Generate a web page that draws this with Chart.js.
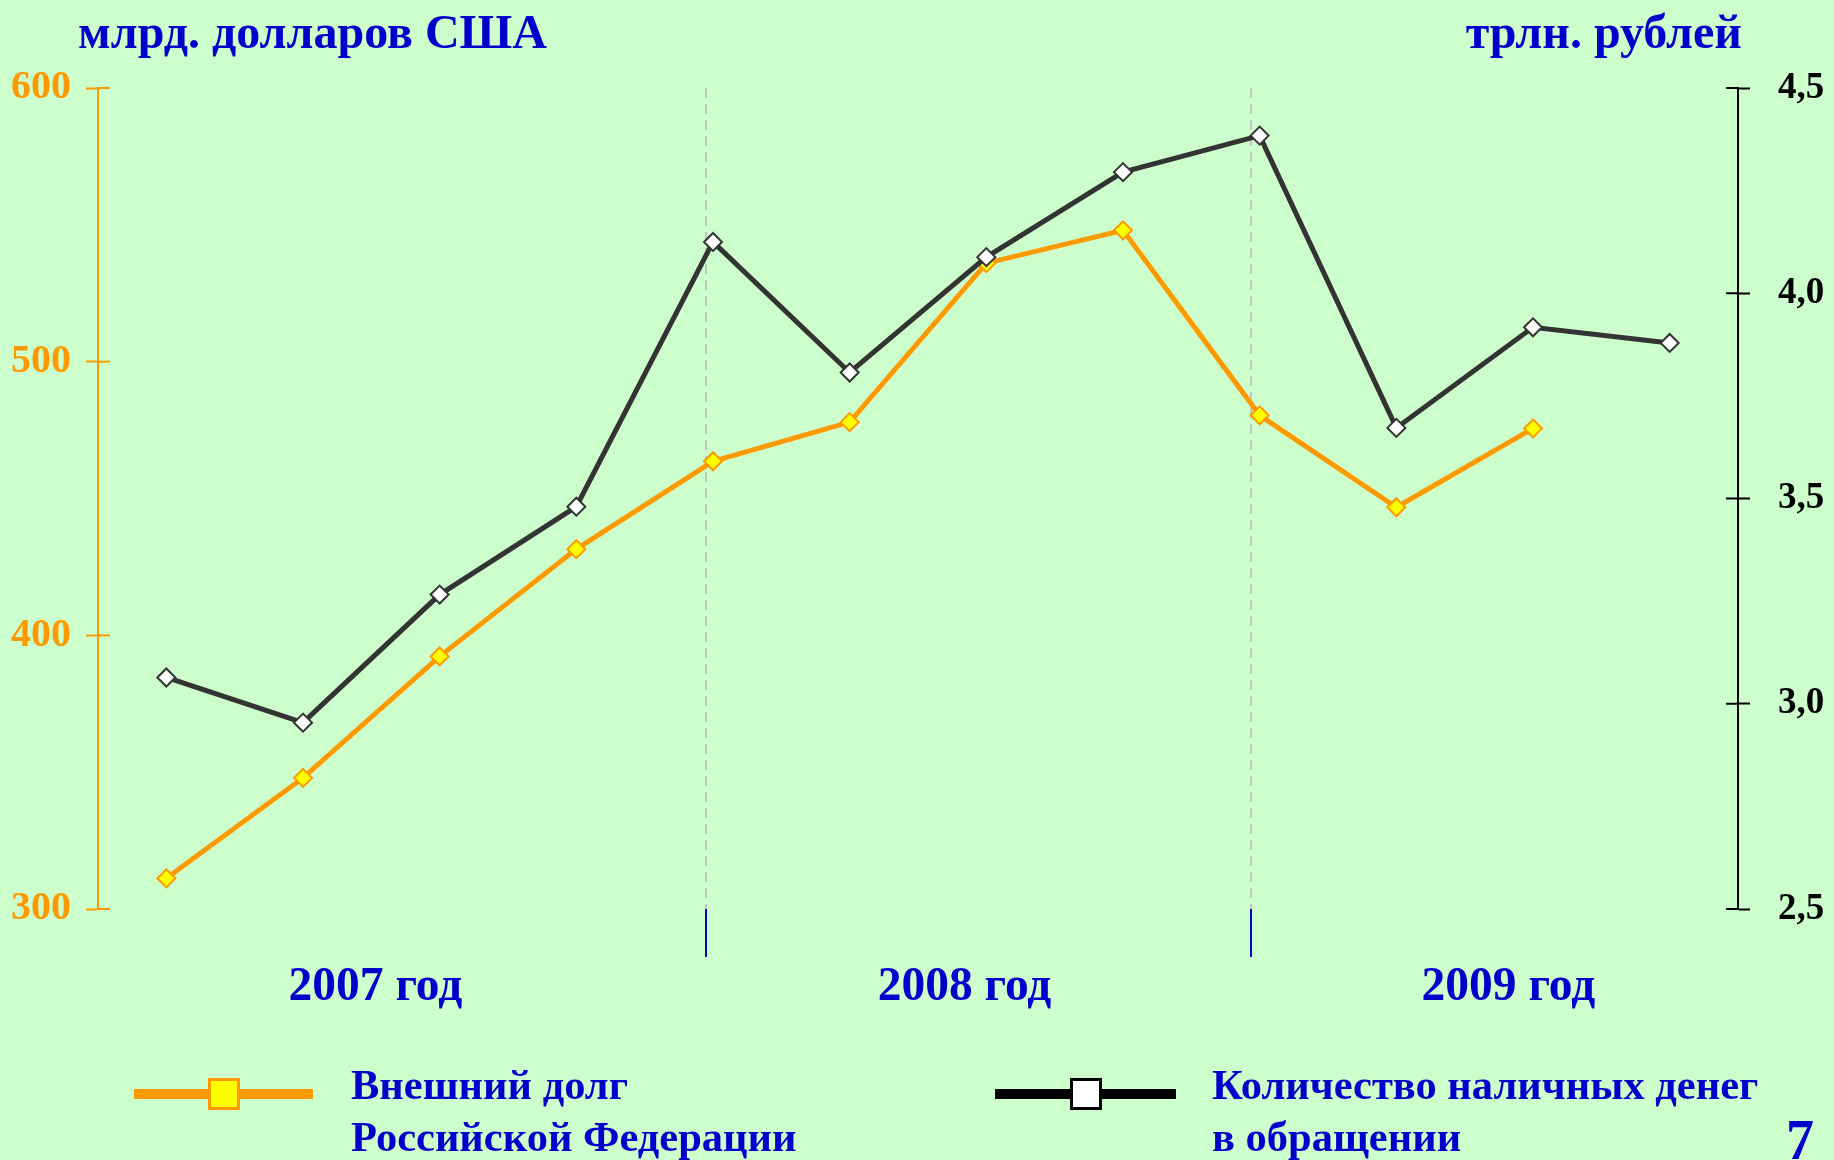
<!DOCTYPE html>
<html lang="ru">
<head>
<meta charset="utf-8">
<title>Внешний долг и наличные деньги</title>
<script src="https://cdn.jsdelivr.net/npm/chart.js@4.4.1/dist/chart.umd.min.js"></script>
<style>
  html, body { margin: 0; padding: 0; background: #ccffcc; }
  #wrap {
    position: relative; width: 1834px; height: 1160px; overflow: hidden;
    font-family: 'Liberation Serif', 'Times New Roman', serif; font-weight: bold; color: #0000cc;
  }
  #chart { position: absolute; left: 0; top: 0; }
  .txt { position: absolute; white-space: nowrap; }
  .title { font-size: 48px; line-height: 48px; top: 8px; }
  .legend-text { font-size: 42.5px; line-height: 52px; top: 1059px; }
  .legend-line { position: absolute; top: 1089px; height: 10px; }
  .legend-box { position: absolute; top: 1078px; width: 32px; height: 32px; box-sizing: border-box; border: 3px solid; }
</style>
</head>
<body>
<div id="wrap">
  <canvas id="chart" width="1834" height="1160"></canvas>

  <div class="txt title" style="left:78px">млрд. долларов США</div>
  <div class="txt title" style="right:92px">трлн. рублей</div>

  <div class="legend-line" style="left:134px; width:179px; background:#ff9900"></div>
  <div class="legend-box" style="left:208px; background:#ffff00; border-color:#ff9900"></div>
  <div class="txt legend-text" style="left:351px">Внешний долг<br>Российской Федерации</div>

  <div class="legend-line" style="left:995px; width:181px; background:#000000"></div>
  <div class="legend-box" style="left:1070px; background:#ffffff; border-color:#000000"></div>
  <div class="txt legend-text" style="left:1212px">Количество наличных денег<br>в обращении</div>

  <div class="txt" style="left:1786px; top:1112px; font-size:56px; line-height:56px">7</div>
</div>

<script>
// данные на начало квартала
const quarters = ['01.01.2007', '01.04.2007', '01.07.2007', '01.10.2007',
                  '01.01.2008', '01.04.2008', '01.07.2008', '01.10.2008',
                  '01.01.2009', '01.04.2009', '01.07.2009', '01.10.2009'];
// внешний долг, млрд. долларов США
const externalDebt = [311.2, 347.9, 392.3, 431.5, 463.6, 477.9, 536.0, 548.0, 480.4, 446.8, 475.6, null];
// наличные деньги в обращении, трлн. рублей
const cashInCirculation = [3.064, 2.954, 3.266, 3.480, 4.125, 3.807, 4.088, 4.295, 4.384, 3.672, 3.917, 3.879];

const debtTicks = [300, 400, 500, 600];
const cashTicks = [2.5, 3.0, 3.5, 4.0, 4.5];
const yearLabels = ['2007 год', '2008 год', '2009 год'];

// где стоят подписи лет и границы лет (в номерах кварталов)
const yearLabelPos = [1.53, 5.84, 9.82];
const yearBreaks = [3.95, 7.94];

const fontFamily = "'Liberation Serif', 'Times New Roman', serif";
const isBreak = c => c.tick && yearBreaks.includes(c.tick.value);

// засечки осей Y заходят внутрь графика
const crossTicks = {
    id: 'crossTicks',
    afterDraw(chart) {
        const ctx = chart.ctx;
        [['y', 1, '#ff9900'], ['y1', -1, '#000000']].forEach(([id, dir, color]) => {
            const s = chart.scales[id];
            const x = dir > 0 ? s.right : s.left;
            ctx.save();
            ctx.strokeStyle = color;
            ctx.lineWidth = 2;
            s.ticks.forEach(t => {
                const y = s.getPixelForValue(t.value);
                ctx.beginPath();
                ctx.moveTo(x, y);
                ctx.lineTo(x + dir * 12, y);
                ctx.stroke();
            });
            ctx.restore();
        });
    }
};

new Chart(document.getElementById('chart'), {
    type: 'line',
    data: {
        labels: quarters,
        datasets: [
            {
                label: 'Внешний долг Российской Федерации',
                data: externalDebt,
                yAxisID: 'y',
                borderColor: '#ff9900',
                borderWidth: 5,
                pointStyle: 'rectRot',
                pointRadius: 9,
                pointBackgroundColor: '#ffff00',
                pointBorderColor: '#ff9900',
                pointBorderWidth: 2,
                tension: 0,
                order: 2
            },
            {
                label: 'Количество наличных денег в обращении',
                data: cashInCirculation,
                yAxisID: 'y1',
                borderColor: '#333333',
                borderWidth: 5,
                pointStyle: 'rectRot',
                pointRadius: 9,
                pointBackgroundColor: '#ffffff',
                pointBorderColor: '#333333',
                pointBorderWidth: 2,
                tension: 0,
                order: 1
            }
        ]
    },
    options: {
        responsive: false,
        animation: false,
        layout: { padding: { top: 88, left: 0, right: 0, bottom: 0 } },
        plugins: {
            legend: { display: false },
            tooltip: { enabled: false }
        },
        scales: {
            x: { type: 'category', display: false, offset: true },
            xYear: {
                type: 'linear',
                position: 'bottom',
                min: -0.5,
                max: 11.5,
                afterBuildTicks: s => {
                    s.ticks = yearLabelPos.concat(yearBreaks).sort((a, b) => a - b).map(v => ({ value: v }));
                },
                afterFit: s => { s.height = 251; },
                border: { display: false, dash: [10, 6] },
                grid: {
                    color: c => isBreak(c) ? '#c4c4c4' : 'rgba(0,0,0,0)',
                    lineWidth: 2,
                    tickLength: 48,
                    tickColor: c => isBreak(c) ? '#0000cc' : 'rgba(0,0,0,0)',
                    tickWidth: 2,
                    tickBorderDash: []
                },
                ticks: {
                    autoSkip: false,
                    maxRotation: 0,
                    padding: 2,
                    color: '#0000cc',
                    font: { family: fontFamily, size: 47.5, weight: 'bold' },
                    callback: v => {
                        const i = yearLabelPos.indexOf(v);
                        return i >= 0 ? yearLabels[i] : '';
                    }
                }
            },
            y: {
                type: 'linear',
                position: 'left',
                min: 300,
                max: 600,
                afterBuildTicks: s => { s.ticks = debtTicks.map(v => ({ value: v })); },
                afterFit: s => { s.width = 98; },
                border: { color: '#ff9900', width: 2 },
                grid: { drawOnChartArea: false, tickLength: 12, tickColor: '#ff9900', tickWidth: 2, color: '#ff9900' },
                ticks: { color: '#ff9900', padding: 15, font: { family: fontFamily, size: 40, weight: 'bold' } }
            },
            y1: {
                type: 'linear',
                position: 'right',
                min: 2.5,
                max: 4.5,
                afterBuildTicks: s => { s.ticks = cashTicks.map(v => ({ value: v })); },
                afterFit: s => { s.width = 96; },
                border: { color: '#000000', width: 2 },
                grid: { drawOnChartArea: false, tickLength: 12, tickColor: '#000000', tickWidth: 2, color: '#000000' },
                ticks: {
                    color: '#000000',
                    padding: 28,
                    font: { family: fontFamily, size: 37, weight: 'bold' },
                    callback: v => v.toFixed(1).replace('.', ',')
                }
            }
        }
    },
    plugins: [crossTicks]
});
</script>
</body>
</html>
